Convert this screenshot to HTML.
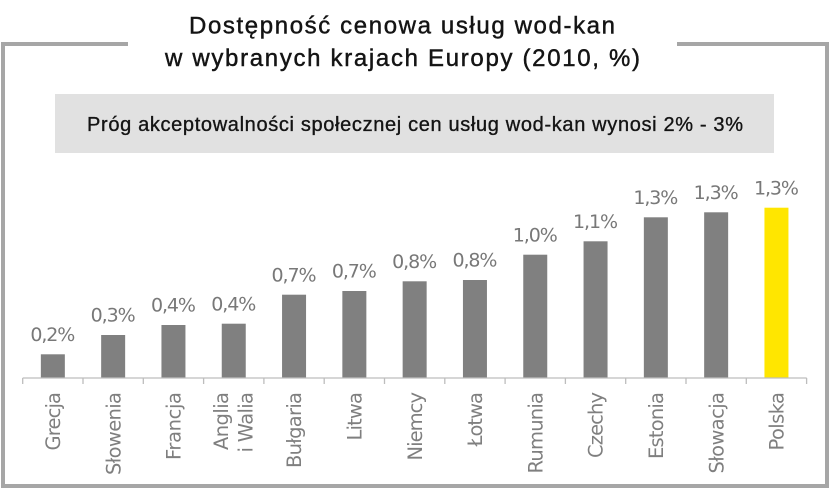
<!DOCTYPE html>
<html>
<head>
<meta charset="utf-8">
<style>
  html, body { margin: 0; padding: 0; background: #ffffff; }
  body { width: 830px; height: 491px; overflow: hidden; }
  svg { display: block; }
</style>
</head>
<body>
<svg width="830" height="491" viewBox="0 0 830 491" xmlns="http://www.w3.org/2000/svg">
  <rect x="0" y="0" width="830" height="491" fill="#ffffff"/>

  <!-- frame -->
  <g fill="#a6a6a6">
    <rect x="1" y="42" width="127" height="4"/>
    <rect x="677" y="42" width="152" height="4"/>
    <rect x="1" y="42" width="4" height="446"/>
    <rect x="825" y="42" width="4" height="446"/>
    <rect x="1" y="484" width="828" height="4"/>
  </g>

  <!-- title -->
  <g font-family="'Liberation Sans', 'DejaVu Sans', sans-serif" fill="#141414" stroke="#141414" stroke-width="0.45">
    <text x="189" y="33.5" font-size="24" textLength="426" lengthAdjust="spacing">Dostępność cenowa usług wod-kan</text>
    <text x="165" y="66" font-size="24" textLength="475" lengthAdjust="spacing">w wybranych krajach Europy (2010, %)</text>
  </g>

  <!-- subtitle box -->
  <rect x="55" y="94" width="719" height="59" fill="#e1e1e1"/>
  <text x="87" y="131" font-family="'Liberation Sans', 'DejaVu Sans', sans-serif" font-size="20" fill="#141414" stroke="#141414" stroke-width="0.35" textLength="656" lengthAdjust="spacing">Próg akceptowalności społecznej cen usług wod-kan wynosi 2% - 3%</text>

  <!-- bars -->
  <g fill="#808080">
    <rect x="40.85" y="354.3" width="24" height="23.2"/>
    <rect x="101.15" y="335" width="24" height="42.5"/>
    <rect x="161.45" y="325" width="24" height="52.5"/>
    <rect x="221.75" y="323.7" width="24" height="53.8"/>
    <rect x="282.05" y="294.7" width="24" height="82.8"/>
    <rect x="342.35" y="291" width="24" height="86.5"/>
    <rect x="402.65" y="281.3" width="24" height="96.2"/>
    <rect x="462.95" y="280" width="24" height="97.5"/>
    <rect x="523.25" y="254.7" width="24" height="122.8"/>
    <rect x="583.55" y="241.3" width="24" height="136.2"/>
    <rect x="643.85" y="217.3" width="24" height="160.2"/>
    <rect x="704.15" y="212.3" width="24" height="165.2"/>
  </g>
  <rect x="764.45" y="207.7" width="24" height="169.8" fill="#ffe600"/>

  <!-- axis -->
  <g stroke="#bdbdbd" stroke-width="1.3" fill="none">
    <line x1="22.7" y1="378" x2="806.7" y2="378"/>
    <line x1="22.7" y1="378" x2="22.7" y2="384"/>
    <line x1="83" y1="378" x2="83" y2="384"/>
    <line x1="143.3" y1="378" x2="143.3" y2="384"/>
    <line x1="203.6" y1="378" x2="203.6" y2="384"/>
    <line x1="263.9" y1="378" x2="263.9" y2="384"/>
    <line x1="324.2" y1="378" x2="324.2" y2="384"/>
    <line x1="384.5" y1="378" x2="384.5" y2="384"/>
    <line x1="444.8" y1="378" x2="444.8" y2="384"/>
    <line x1="505.1" y1="378" x2="505.1" y2="384"/>
    <line x1="565.4" y1="378" x2="565.4" y2="384"/>
    <line x1="625.7" y1="378" x2="625.7" y2="384"/>
    <line x1="686" y1="378" x2="686" y2="384"/>
    <line x1="746.3" y1="378" x2="746.3" y2="384"/>
    <line x1="806.6" y1="378" x2="806.6" y2="384"/>
  </g>

  <!-- value labels -->
  <g font-family="'DejaVu Sans', 'Liberation Sans', sans-serif" font-size="19" fill="#787878" text-anchor="middle">
    <text x="52.85" y="341" textLength="45" lengthAdjust="spacing">0,2%</text>
    <text x="113.15" y="321.7" textLength="45" lengthAdjust="spacing">0,3%</text>
    <text x="173.45" y="311.7" textLength="45" lengthAdjust="spacing">0,4%</text>
    <text x="233.75" y="310.4" textLength="45" lengthAdjust="spacing">0,4%</text>
    <text x="294.05" y="281.4" textLength="45" lengthAdjust="spacing">0,7%</text>
    <text x="354.35" y="277.7" textLength="45" lengthAdjust="spacing">0,7%</text>
    <text x="414.65" y="268" textLength="45" lengthAdjust="spacing">0,8%</text>
    <text x="474.95" y="266.7" textLength="45" lengthAdjust="spacing">0,8%</text>
    <text x="535.25" y="241.4" textLength="45" lengthAdjust="spacing">1,0%</text>
    <text x="595.55" y="228" textLength="45" lengthAdjust="spacing">1,1%</text>
    <text x="655.85" y="204" textLength="45" lengthAdjust="spacing">1,3%</text>
    <text x="716.15" y="199" textLength="45" lengthAdjust="spacing">1,3%</text>
    <text x="776.45" y="194.4" textLength="45" lengthAdjust="spacing">1,3%</text>
  </g>

  <!-- category labels -->
  <g font-family="'DejaVu Sans', 'Liberation Sans', sans-serif" font-size="19.5" fill="#7f7f7f" text-anchor="end">
    <text x="60" y="392" transform="rotate(-90 60 392)" textLength="58.5" lengthAdjust="spacing">Grecja</text>
    <text x="120.3" y="392" transform="rotate(-90 120.3 392)" textLength="83" lengthAdjust="spacing">Słowenia</text>
    <text x="180.6" y="392" transform="rotate(-90 180.6 392)" textLength="68" lengthAdjust="spacing">Francja</text>
    <text x="227.8" y="392" transform="rotate(-90 227.8 392)" textLength="58" lengthAdjust="spacing">Anglia</text>
    <text x="252.5" y="392" transform="rotate(-90 252.5 392)" textLength="60.5" lengthAdjust="spacing">i Walia</text>
    <text x="301.2" y="392" transform="rotate(-90 301.2 392)" textLength="76" lengthAdjust="spacing">Bułgaria</text>
    <text x="361.5" y="392" transform="rotate(-90 361.5 392)" textLength="48.5" lengthAdjust="spacing">Litwa</text>
    <text x="421.8" y="392" transform="rotate(-90 421.8 392)" textLength="68.5" lengthAdjust="spacing">Niemcy</text>
    <text x="482.1" y="392" transform="rotate(-90 482.1 392)" textLength="54.5" lengthAdjust="spacing">Łotwa</text>
    <text x="542.4" y="392" transform="rotate(-90 542.4 392)" textLength="81.5" lengthAdjust="spacing">Rumunia</text>
    <text x="602.7" y="392" transform="rotate(-90 602.7 392)" textLength="66" lengthAdjust="spacing">Czechy</text>
    <text x="663" y="392" transform="rotate(-90 663 392)" textLength="67" lengthAdjust="spacing">Estonia</text>
    <text x="723.3" y="392" transform="rotate(-90 723.3 392)" textLength="81.5" lengthAdjust="spacing">Słowacja</text>
    <text x="783.6" y="392" transform="rotate(-90 783.6 392)" textLength="58.5" lengthAdjust="spacing">Polska</text>
  </g>
</svg>
</body>
</html>
